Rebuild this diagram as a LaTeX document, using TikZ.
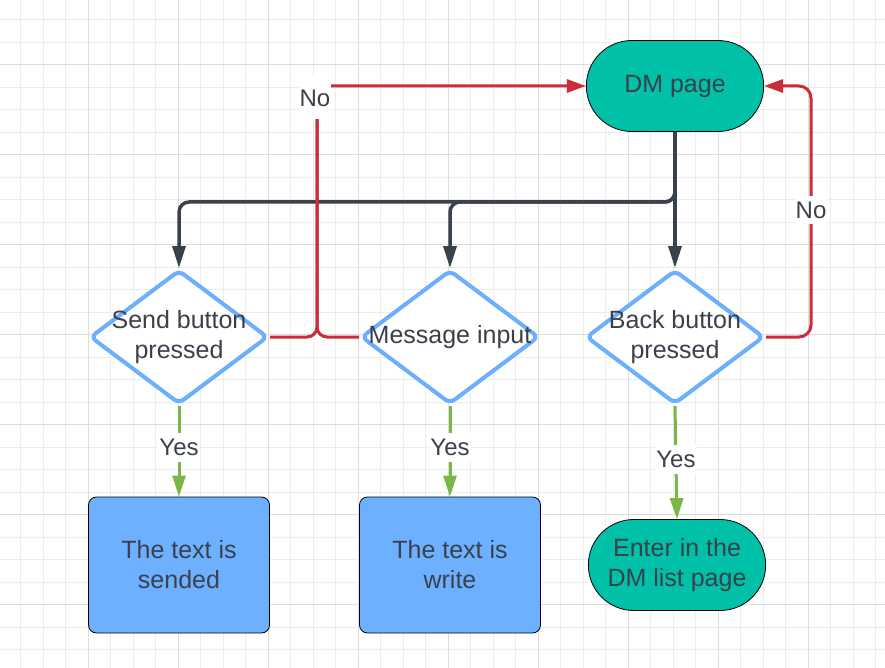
\documentclass[tikz,border=0pt]{standalone}
\usepackage{fontspec}
\setmainfont{Liberation Sans}
\usetikzlibrary{shapes.geometric,shapes.misc,arrows.meta}
\definecolor{tealdm}{RGB}{0,193,168}
\definecolor{boxblue}{RGB}{108,176,255}
\definecolor{rimblue}{RGB}{108,174,255}
\definecolor{inkgray}{RGB}{58,65,74}
\definecolor{nored}{RGB}{201,45,57}
\definecolor{yesgreen}{RGB}{122,182,72}
\definecolor{gridlo}{RGB}{236,236,236}
\definecolor{gridhi}{RGB}{221,221,221}
\newcommand{\kisi}{%
  \foreach \gx in {0,...,38} \draw[gridlo,line width=0.9pt] ({20.8+22.5*\gx},0) -- ++(0,668);
  \foreach \gy in {0,...,28} \draw[gridlo,line width=0.9pt] (0,{19.5+22.5*\gy}) -- ++(885,0);
  \foreach \gx in {0,...,8} \draw[gridhi,line width=0.9pt] ({88.3+90*\gx},0) -- ++(0,668);
  \foreach \gy in {0,...,6} \draw[gridhi,line width=0.9pt] (0,{64.5+90*\gy}) -- ++(885,0);}
\tikzset{
  pill/.style={rounded rectangle, draw=black, line width=0.8pt, fill=tealdm,
    minimum width=184pt, minimum height=91pt, text=inkgray, align=center},
  choice/.style={diamond, draw=rimblue, line width=4pt, fill=white, rounded corners=6pt,
    minimum width=178pt, minimum height=134pt, inner sep=0pt},
  choicetext/.style={text=inkgray, align=center},
  textbox/.style={rectangle, rounded corners=8pt, draw=black, line width=0.8pt, fill=boxblue,
    minimum width=181pt, minimum height=136pt, text=inkgray, align=center},
  darkarrow/.style={draw=inkgray, line width=3.5pt, -{Triangle[length=22pt,width=13pt]}},
  redline/.style={draw=nored, line width=3pt},
  redarrow/.style={redline, -{Triangle[length=19pt,width=13pt]}},
  yesarrow/.style={draw=yesgreen, line width=3pt, -{Triangle[length=21pt,width=13pt]}},
  nolabel/.style={fill=white, text=inkgray, inner xsep=1pt, inner ysep=6pt, font=\fontsize{24}{28}\selectfont},
  yeslabel/.style={nolabel}
}

\begin{document}
\begin{tikzpicture}[x=1pt, y=-1pt, font=\fontsize{25}{30}\selectfont]
  \useasboundingbox (0,0) rectangle (885,668);
  \fill[white] (0,0) rectangle (885,668);
  \kisi

  \coordinate (fork) at (675,202);
  \coordinate (jtop) at (317,86);
  \coordinate (rtop) at (811,86);

  \node[pill] (dm) at (675,86) {DM page};
  \node[choice, label={[choicetext]center:{Send button\\pressed}}] (send) at (179,337) {};
  \node[choice, label={[choicetext]center:{Message input}}] (msg) at (450,337) {};
  \node[choice, label={[choicetext]center:{Back button\\pressed}}] (back) at (675,337) {};
  \node[textbox] (sended) at (179,565) {The text is\\sended};
  \node[textbox] (written) at (450,565) {The text is\\write};
  \node[pill] (dmlist) at (677,565) {Enter in the\\DM list page};

  \draw[darkarrow, rounded corners=10pt] (dm.south) |- (send.north |- fork) -- (send.north);
  \draw[darkarrow, rounded corners=10pt] (dm.south) |- (msg.north |- fork) -- (msg.north);
  \draw[darkarrow] (dm.south) -- (back.north);

  \draw[redarrow, rounded corners=10pt] (send.east) -| (jtop) -- (dm.west);
  \draw[redline, rounded corners=10pt] (msg.west) -| (jtop);
  \draw[redarrow, rounded corners=12pt] (back.east) -| (rtop) -- (dm.east);
  \node[nolabel, minimum height=42pt, minimum width=30pt] (noleft) at (315,98) {No};
  \node[nolabel] (noright) at (811,210) {No};

  \draw[yesarrow] (send.south) -- (sended.north) node[yeslabel, pos=0.46] (yes1) {Yes};
  \draw[yesarrow] (msg.south) -- (written.north) node[yeslabel, pos=0.46] (yes2) {Yes};
  \draw[yesarrow] (back.south) -- (dmlist.north) node[yeslabel, pos=0.47] (yes3) {Yes};
\end{tikzpicture}
\end{document}
